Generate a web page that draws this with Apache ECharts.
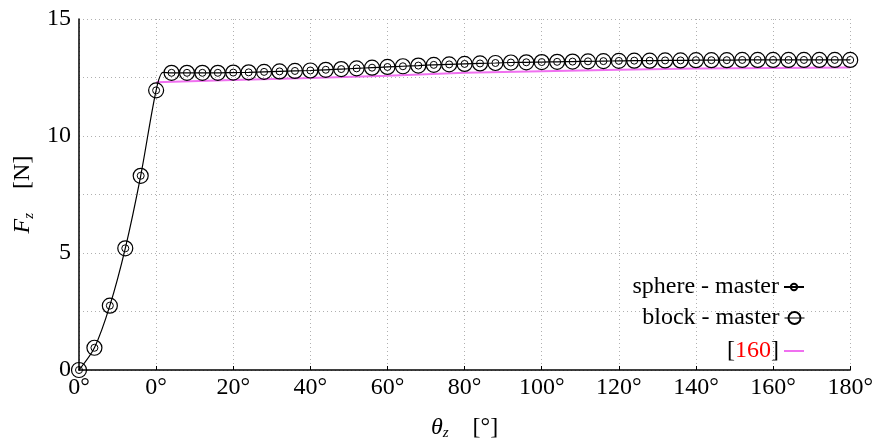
<!DOCTYPE html>
<html><head><meta charset="utf-8">
<script src="https://cdn.jsdelivr.net/npm/echarts@6/dist/echarts.min.js"></script>
<style>html,body{margin:0;padding:0;background:#fff}#c{width:876px;height:446px}</style>
</head><body><div id="c"></div>
<script>
// loading phase (shown as negative offsets, labelled 0°)
const xLoad = [-20, -16, -12, -8, -4, 0];
const yLoad = [0, 0.95, 2.75, 5.2, 8.3, 11.95];
// knee of the sphere-master curve (no marker)
const kneeX = 1.8, kneeY = 12.72;
// rotation phase
const xRot = [4,8,12,16,20,24,28,32,36,40,44,48,52,56,60,64,68,72,76,80,84,88,92,96,100,104,108,112,116,120,124,128,132,136,140,144,148,152,156,160,164,168,172,176,180];
const yRot = [12.70,12.70,12.70,12.70,12.71,12.72,12.74,12.76,12.78,12.80,12.83,12.86,12.89,12.92,12.95,12.98,13.01,13.04,13.06,13.08,13.10,13.12,13.14,13.15,13.16,13.17,13.18,13.19,13.20,13.21,13.22,13.22,13.23,13.23,13.24,13.24,13.24,13.25,13.25,13.25,13.25,13.25,13.25,13.25,13.25];
// reference [160]
const xRef = [0,20,40,60,80,100,120,140,160,180];
const yRef = [12.30,12.39,12.48,12.58,12.70,12.77,12.83,12.88,12.91,12.93];
const seriesNames = ['sphere - master', 'block - master', '[160]'];

const FONT = 'Liberation Serif';
const sphereData = xLoad.map((x,i)=>[x,yLoad[i]])
  .concat([{value:[kneeX,kneeY], symbol:'none'}])
  .concat(xRot.map((x,i)=>[x,yRot[i]]));
const blockData = xLoad.map((x,i)=>[x,yLoad[i]]).concat(xRot.map((x,i)=>[x,yRot[i]]));
const refData = xRef.map((x,i)=>[x,yRef[i]]);

const chart = echarts.init(document.getElementById('c'), null, {renderer:'canvas'});
const grid = {left:79, right:24, top:19, bottom:68};
const splitLine = {show:true, lineStyle:{color:'#b0b0b0', type:[1,3], width:1}};
const legendText = {fontFamily:FONT, fontSize:24, color:'#000', lineHeight:26,
  rich:{r:{color:'#ff0000', fontFamily:FONT, fontSize:24, lineHeight:26}}};
function legendOf(name, top, itemH, extra) {
  return Object.assign({
    orient:'vertical', right:66, top: top, align:'right',
    itemWidth:20, itemHeight:itemH, itemGap:0,
    textStyle: legendText,
    formatter: n => n === '[160]' ? '[{r|160}]' : n,
    data:[Object.assign({name:name}, extra || {})]
  });
}
chart.setOption({
  animation:false,
  backgroundColor:'#fff',
  grid: grid,
  legend: [
    legendOf(seriesNames[0], 269, 8),
    legendOf(seriesNames[1], 300, 15, {lineStyle:{opacity:1, color:'#000', width:1}}),
    legendOf(seriesNames[2], 333, 14, {itemStyle:{color:'rgba(0,0,0,0)', borderWidth:0, opacity:0}})
  ],
  xAxis: {
    type:'value', min:-20, max:180, interval:20,
    axisLine:{show:true, onZero:false, lineStyle:{color:'#000', width:1.5}},
    axisTick:{show:true, inside:true, length:4, lineStyle:{color:'#000'}},
    axisLabel:{fontFamily:FONT, fontSize:24, color:'#000', margin:6,
      formatter: v => (v < 0 ? 0 : v) + '°'},
    splitLine: splitLine,
    name:'{t|θ}{z|z}{n|    [°]}', nameLocation:'middle', nameGap:44,
    nameTextStyle:{fontFamily:FONT, color:'#000', rich:{
      t:{fontFamily:FONT, fontStyle:'italic', fontSize:24, color:'#000'},
      z:{fontFamily:FONT, fontStyle:'italic', fontSize:15, color:'#000', padding:[12,0,0,0]},
      n:{fontFamily:FONT, fontSize:24, color:'#000'}}}
  },
  yAxis: {
    type:'value', min:0, max:15, interval:2.5,
    axisLine:{show:true, onZero:false, lineStyle:{color:'#000', width:1.5}},
    axisTick:{show:false},
    axisLabel:{fontFamily:FONT, fontSize:24, color:'#000', margin:8,
      formatter: v => (v % 5 === 0 ? String(v) : '')},
    splitLine: splitLine,
    name:'{t|F}{z|z}{n|    [N]}', nameLocation:'middle', nameGap:42, nameRotate:90,
    nameTextStyle:{fontFamily:FONT, color:'#000', rich:{
      t:{fontFamily:FONT, fontStyle:'italic', fontSize:24, color:'#000'},
      z:{fontFamily:FONT, fontStyle:'italic', fontSize:15, color:'#000', padding:[12,0,0,0]},
      n:{fontFamily:FONT, fontSize:24, color:'#000'}}}
  },
  series: [
    {name:seriesNames[2], type:'line', data:refData, showSymbol:false, symbol:'none',
      lineStyle:{color:'#f070f0', width:2}, itemStyle:{color:'#f070f0'}, z:2},
    {name:seriesNames[0], type:'line', data:sphereData, smooth:0.3,
      symbol:'circle', symbolSize:7, showAllSymbol:true,
      lineStyle:{color:'#000', width:1.2},
      itemStyle:{color:'rgba(0,0,0,0)', borderColor:'#000', borderWidth:1}, z:4},
    {name:seriesNames[1], type:'line', data:blockData,
      symbol:'circle', symbolSize:15, showAllSymbol:true,
      lineStyle:{opacity:0, width:0, color:'#000'},
      itemStyle:{color:'rgba(0,0,0,0)', borderColor:'#000', borderWidth:1.2}, z:3}
  ]
});
</script></body></html>
